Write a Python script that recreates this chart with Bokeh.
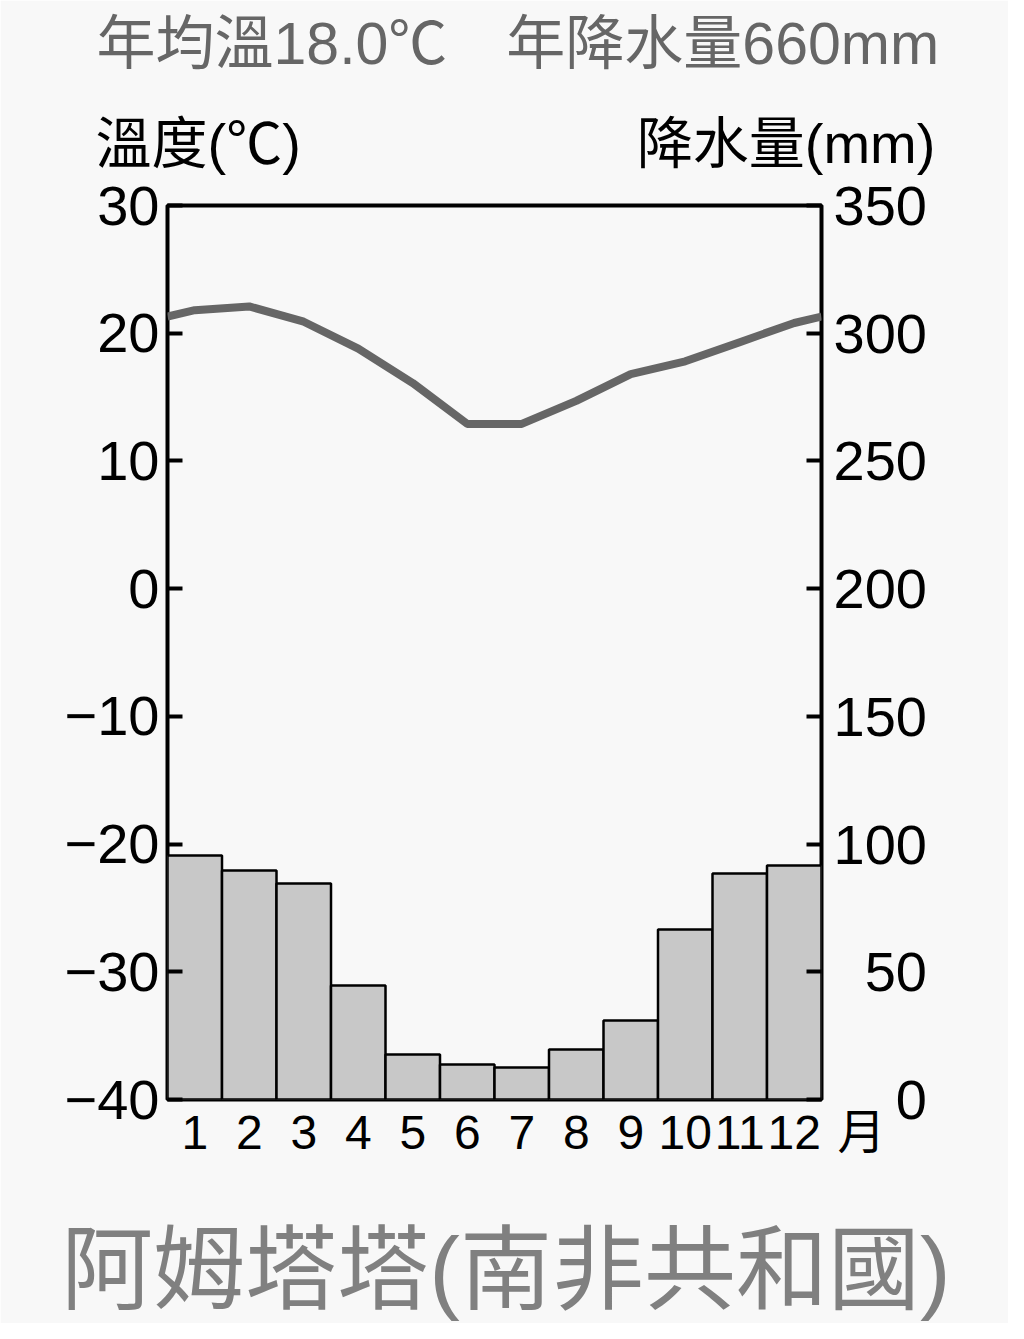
from bokeh.plotting import figure
from bokeh.models import Range1d, LinearAxis, FixedTicker, Title
from bokeh.embed import file_html
from bokeh.resources import INLINE

months = list(range(1, 13))
month_labels = [str(m) for m in months]
temps = [21.8, 22.1, 20.9, 18.8, 16.1, 12.9, 12.9, 14.7, 16.8, 17.8, 19.3, 20.8]
precip = [95.5, 89.7, 84.6, 44.6, 17.6, 13.7, 12.5, 19.6, 30.9, 66.6, 88.5, 91.6]
temp_ticks = [-40, -30, -20, -10, 0, 10, 20, 30]
precip_ticks = [0, 50, 100, 150, 200, 250, 300, 350]

title_row1 = "年均溫18.0℃\u3000年降水量660mm"
title_row2 = "溫度(℃)" + "\u3000" * 5 + "\u2002\u2005\u2005" + "降水量(mm)"
month_unit = "月"
station = "阿姆塔塔(南非共和國)"

W, H = 1008, 1323
BG = "#f8f8f8"
NUM_FONT = "Liberation Sans"
MIX_FONT = "Liberation Sans, Noto Sans CJK TC"

p = figure(width=W, height=H, output_backend="svg", toolbar_location=None,
           x_range=Range1d(0.5, 12.5), y_range=Range1d(-40, 30),
           min_border_left=167, min_border_right=187, min_border_top=205,
           min_border_bottom=224)
p.extra_y_ranges = {"precip": Range1d(0, 350)}
p.background_fill_color = BG
p.border_fill_color = BG
p.outline_line_color = "black"
p.outline_line_width = 4
p.xgrid.visible = False
p.ygrid.visible = False

# bars
p.vbar(x=months, top=precip, bottom=0, width=1.0, y_range_name="precip",
       fill_color="#c8c8c8", line_color="black", line_width=2.5)

# temperature line (edges from Dec/Jan wrap-around)
edge = (temps[0] + temps[-1]) / 2
lx = [0.5] + months + [12.5]
ly = [edge] + temps + [edge]
p.line(lx, ly, line_color="#666666", line_width=8, line_join="round")

# left axis
la = p.yaxis[0]
la.ticker = FixedTicker(ticks=temp_ticks)
la.major_label_overrides = {t: (str(t).replace("-", "−")) for t in temp_ticks}
la.axis_line_color = None
la.major_tick_in = 15
la.major_tick_out = 0
la.major_tick_line_width = 4
la.minor_tick_line_color = None
la.major_label_text_font = NUM_FONT
la.major_label_text_font_size = "56px"
la.major_label_text_color = "black"
la.major_label_standoff = 8

# right axis
ra = LinearAxis(y_range_name="precip", ticker=FixedTicker(ticks=precip_ticks))
ra.major_label_overrides = {t: str(t).rjust(3, "\u2007") for t in precip_ticks}
ra.axis_line_color = None
ra.major_tick_in = 15
ra.major_tick_out = 0
ra.major_tick_line_width = 4
ra.minor_tick_line_color = None
ra.major_label_text_font = NUM_FONT
ra.major_label_text_font_size = "56px"
ra.major_label_text_color = "black"
ra.major_label_standoff = 12
p.add_layout(ra, "right")

# x axis: month numbers, the unit at the right end, station name as axis label
x_end = 12.5
xa = p.xaxis[0]
xa.ticker = FixedTicker(ticks=months + [x_end])
overrides = {m: l for m, l in zip(months, month_labels)}
overrides[x_end] = "\u2007\u2007\u2007" + month_unit
xa.major_label_overrides = overrides
xa.axis_line_color = None
xa.major_tick_line_color = None
xa.minor_tick_line_color = None
xa.major_label_text_font = MIX_FONT
xa.major_label_text_font_size = "48px"
xa.major_label_text_color = "black"
xa.major_label_standoff = 0
xa.axis_label = "\u2005" + station
xa.axis_label_text_font = MIX_FONT
xa.axis_label_text_font_size = "92px"
xa.axis_label_text_font_style = "normal"
xa.axis_label_text_color = "#808080"
xa.axis_label_standoff = 57

# titles (added ones sit closer to the frame)
p.title = Title(text=title_row1, align="left", offset=-71, standoff=4,
                text_font=MIX_FONT, text_font_size="59px", text_color="#666666",
                text_font_style="normal")
p.add_layout(Title(text=title_row2, align="left", offset=-72, standoff=62,
                   text_font=MIX_FONT, text_font_size="56px", text_color="black",
                   text_font_style="normal"), "above")

open("out.html", "w").write(file_html(p, INLINE))
